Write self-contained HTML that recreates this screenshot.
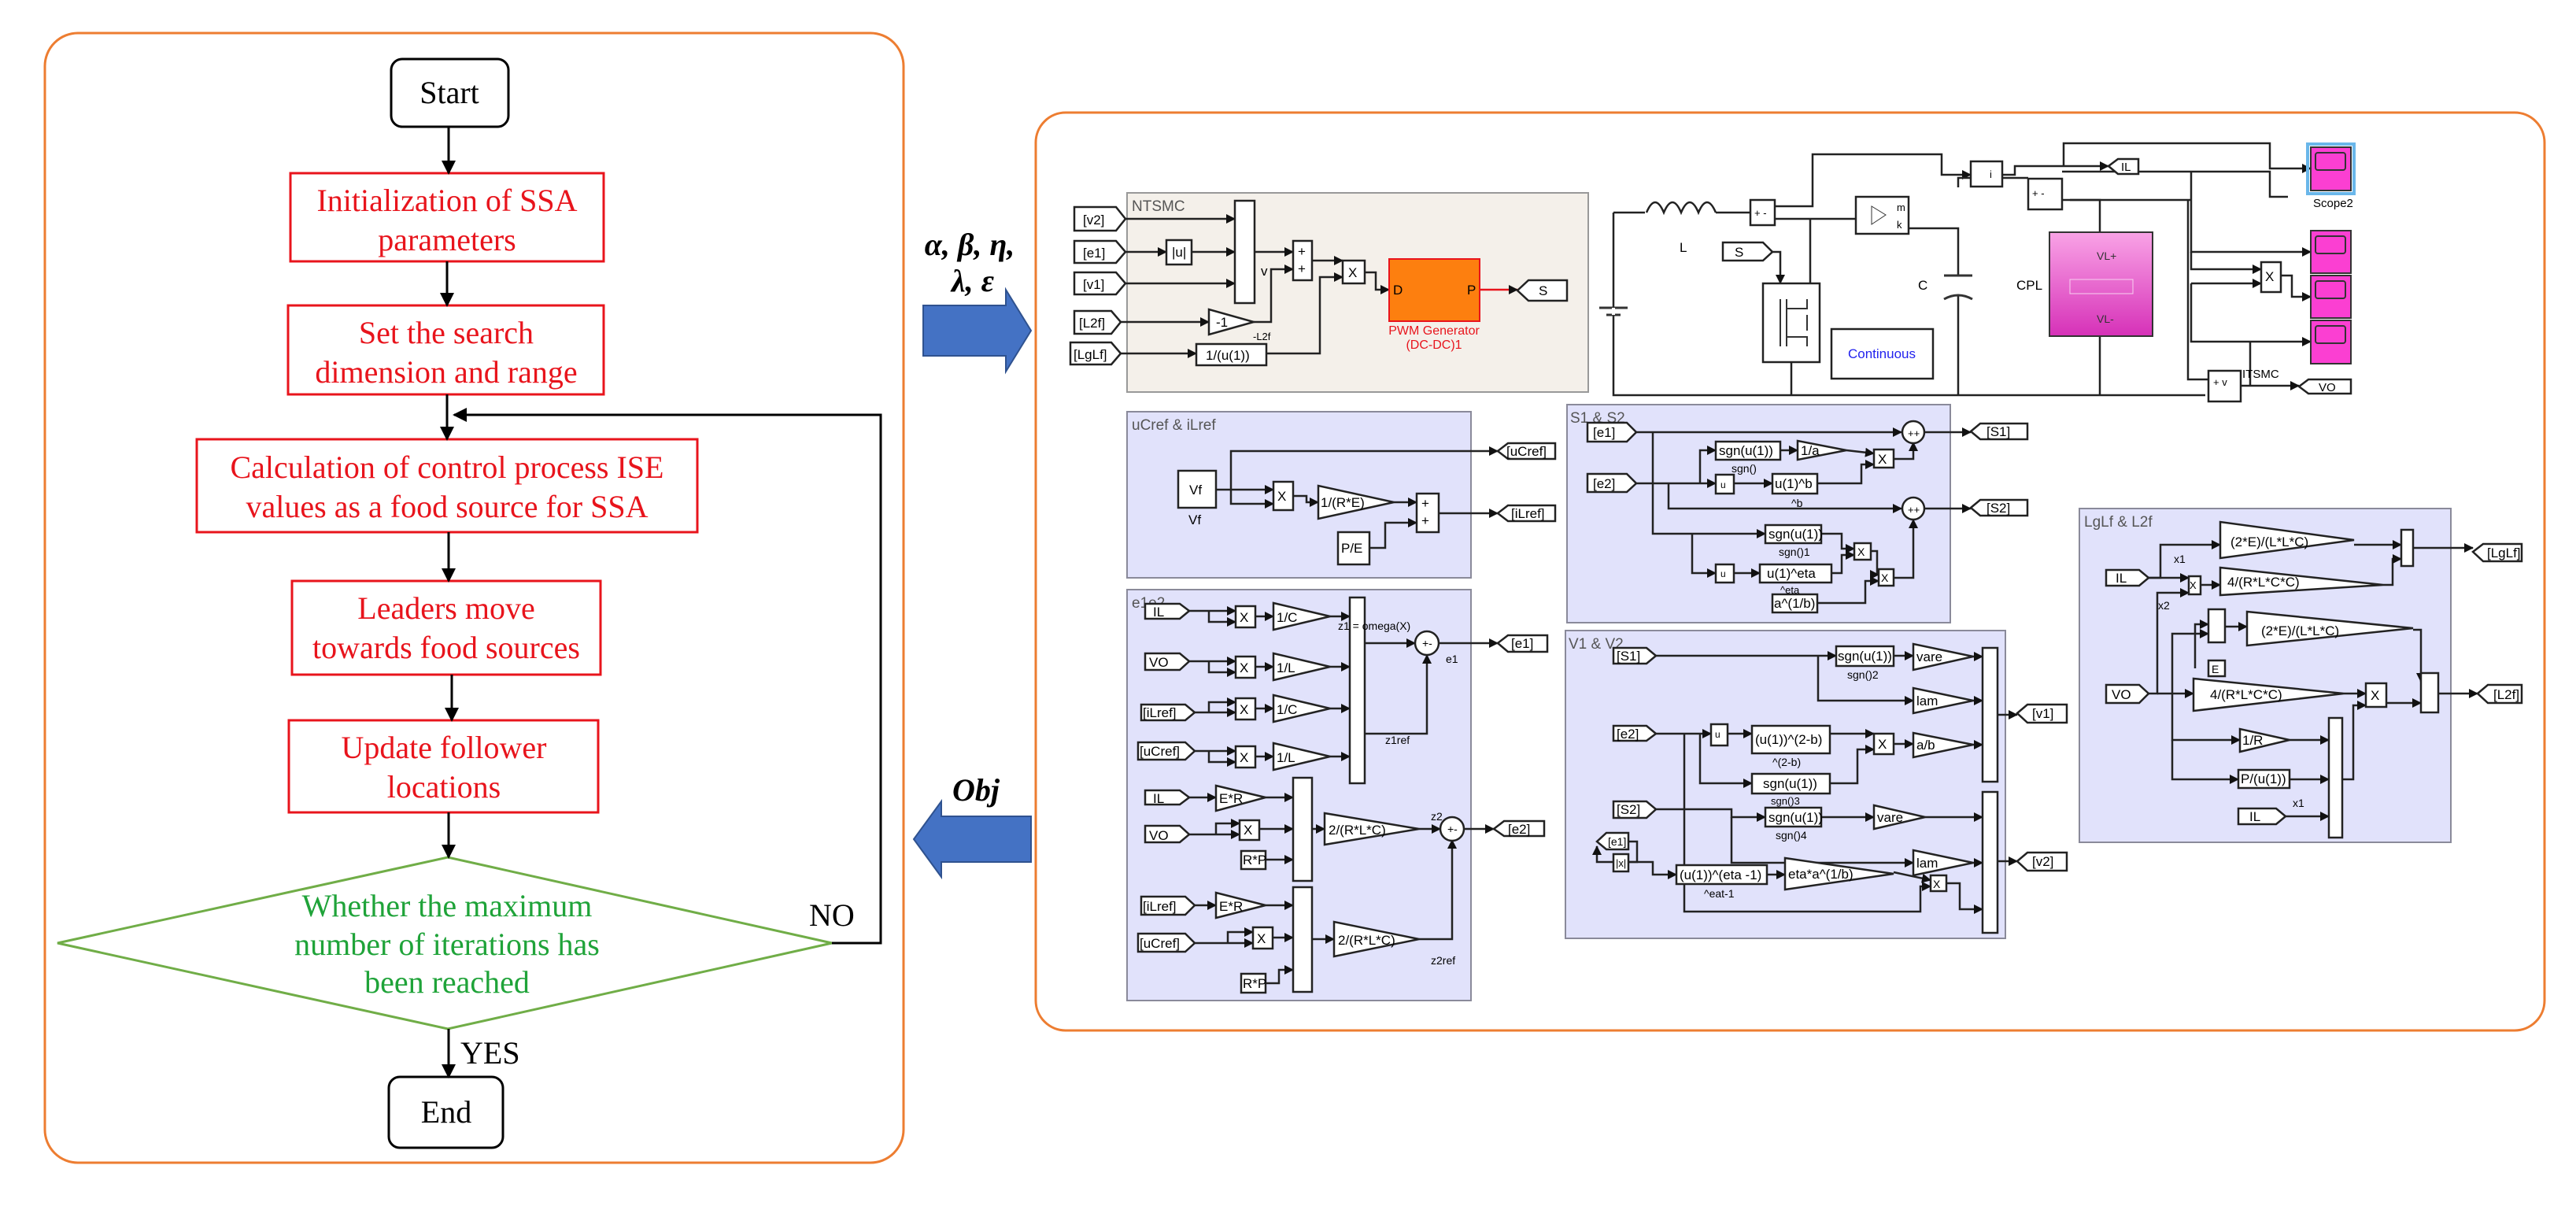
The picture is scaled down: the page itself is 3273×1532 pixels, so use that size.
<!DOCTYPE html>
<html><head><meta charset="utf-8">
<style>
html,body{margin:0;padding:0;background:#fff;}
svg{display:block;}
.fc{font-family:"Liberation Serif",serif;font-size:40px;text-anchor:middle;}
.r{fill:#e8141c;}
.g{fill:#1fa339;}
.k{fill:#000;}
.s{font-family:"Liberation Sans",sans-serif;font-size:17px;fill:#000;}
.t{font-family:"Liberation Sans",sans-serif;font-size:19px;fill:#555;}
.b{fill:#fff;stroke:#222;stroke-width:2.5;}
.w{fill:none;stroke:#222;stroke-width:2.5;}
.sub{fill:#e1e2fb;stroke:#8a8a9a;stroke-width:2;}
</style></head><body>
<svg width="3273" height="1532" viewBox="0 0 3273 1532" xmlns="http://www.w3.org/2000/svg">
<defs>
<marker id="A" markerWidth="18" markerHeight="18" refX="16" refY="9" orient="auto" markerUnits="userSpaceOnUse"><path d="M0,0 L18,9 L0,18 z" fill="#000"/></marker>
<marker id="m" markerWidth="12" markerHeight="12" refX="11" refY="6" orient="auto" markerUnits="userSpaceOnUse"><path d="M0,0 L12,6 L0,12 z" fill="#111"/></marker>
<linearGradient id="pk" x1="0" y1="0" x2="0" y2="1"><stop offset="0" stop-color="#f9a3e6"/><stop offset="1" stop-color="#d631b8"/></linearGradient>
</defs>

<!-- LEFT PANEL -->
<rect x="57" y="42" width="1091" height="1435" rx="42" fill="none" stroke="#ed7d31" stroke-width="3"/>
<rect x="497" y="75" width="149" height="86" rx="14" fill="#fff" stroke="#000" stroke-width="3"/>
<text x="571" y="131" class="fc k">Start</text>
<rect x="369" y="220" width="398" height="112" fill="#fff" stroke="#e8141c" stroke-width="3"/>
<text x="568" y="268" class="fc r">Initialization of SSA</text><text x="568" y="318" class="fc r">parameters</text>
<rect x="366" y="388" width="401" height="113" fill="#fff" stroke="#e8141c" stroke-width="3"/>
<text x="567" y="436" class="fc r">Set the search</text><text x="567" y="486" class="fc r">dimension and range</text>
<rect x="250" y="558" width="636" height="118" fill="#fff" stroke="#e8141c" stroke-width="3"/>
<text x="568" y="607" class="fc r">Calculation of control process ISE</text><text x="568" y="657" class="fc r">values as a food source for SSA</text>
<rect x="371" y="738" width="392" height="119" fill="#fff" stroke="#e8141c" stroke-width="3"/>
<text x="567" y="786" class="fc r">Leaders move</text><text x="567" y="836" class="fc r">towards food sources</text>
<rect x="367" y="915" width="393" height="117" fill="#fff" stroke="#e8141c" stroke-width="3"/>
<text x="564" y="963" class="fc r">Update follower</text><text x="564" y="1013" class="fc r">locations</text>
<polygon points="73,1198 569,1089 1057,1198 569,1307" fill="#fff" stroke="#70ad47" stroke-width="3"/>
<text x="568" y="1164" class="fc g">Whether the maximum</text><text x="568" y="1213" class="fc g">number of iterations has</text><text x="568" y="1261" class="fc g">been reached</text>
<rect x="494" y="1368" width="145" height="90" rx="14" fill="#fff" stroke="#000" stroke-width="3"/>
<text x="567" y="1426" class="fc k">End</text>
<g stroke="#000" stroke-width="3" fill="none" marker-end="url(#A)">
<line x1="570" y1="161" x2="570" y2="220"/>
<line x1="568" y1="332" x2="568" y2="388"/>
<line x1="568" y1="501" x2="568" y2="558"/>
<line x1="570" y1="676" x2="570" y2="738"/>
<line x1="574" y1="857" x2="574" y2="915"/>
<line x1="570" y1="1032" x2="570" y2="1089"/>
<line x1="570" y1="1307" x2="570" y2="1368"/>
<polyline points="1057,1198 1119,1198 1119,527 577,527"/>
</g>
<text x="1028" y="1176" class="fc k" style="text-anchor:start">NO</text>
<text x="585" y="1351" class="fc k" style="text-anchor:start">YES</text>

<!-- middle arrows -->
<text x="1232" y="324" style="font-family:'Liberation Serif',serif;font-weight:bold;font-style:italic;font-size:40px" text-anchor="middle">α, β, η,</text>
<text x="1236" y="370" style="font-family:'Liberation Serif',serif;font-weight:bold;font-style:italic;font-size:40px" text-anchor="middle">λ, ε</text>
<polygon points="1173,388 1278,388 1278,368 1310,420 1278,472 1278,452 1173,452" fill="#4472c4" stroke="#2f528f" stroke-width="2"/>
<text x="1240" y="1017" style="font-family:'Liberation Serif',serif;font-weight:bold;font-style:italic;font-size:40px" text-anchor="middle">Obj</text>
<polygon points="1310,1037 1196,1037 1196,1018 1161,1066 1196,1114 1196,1095 1310,1095" fill="#4472c4" stroke="#2f528f" stroke-width="2"/>

<!-- RIGHT PANEL -->
<rect x="1316" y="143" width="1917" height="1166" rx="38" fill="none" stroke="#ed7d31" stroke-width="3"/>

<rect x="1432" y="245" width="586" height="253" fill="#f4f0ea" stroke="#999" stroke-width="2"/>
<rect x="1432" y="523" width="437" height="211" class="sub"/>
<rect x="1432" y="749" width="437" height="522" class="sub"/>
<rect x="1991" y="514" width="487" height="277" class="sub"/>
<rect x="1989" y="801" width="559" height="391" class="sub"/>
<rect x="2642" y="646" width="472" height="424" class="sub"/>
<text x="1438" y="268" class="t">NTSMC</text>
<text x="1438" y="546" class="t">uCref &amp; iLref</text>
<text x="1438" y="772" class="t">e1e2</text>
<text x="1995" y="537" class="t">S1 &amp; S2</text>
<text x="1993" y="824" class="t">V1 &amp; V2</text>
<text x="2648" y="669" class="t">LgLf &amp; L2f</text>

<!-- NTSMC -->
<g class="w" marker-end="url(#m)">
<line x1="1430" y1="278" x2="1569" y2="278"/>
<line x1="1430" y1="320" x2="1482" y2="320"/>
<line x1="1514" y1="320" x2="1569" y2="320"/>
<line x1="1430" y1="360" x2="1569" y2="360"/>
<line x1="1424" y1="409" x2="1536" y2="409"/>
<line x1="1424" y1="449" x2="1520" y2="449"/>
<polyline points="1594,320 1643,320"/>
<polyline points="1593,409 1615,409 1615,342 1643,342"/>
<polyline points="1667,331 1706,331"/>
<polyline points="1609,449 1677,449 1677,352 1706,352"/>
<polyline points="1734,346 1748,346 1748,368 1765,368"/>
</g>
<line x1="1880" y1="368" x2="1928" y2="368" stroke="#e8141c" stroke-width="2.5" marker-end="url(#m)"/>
<polygon class="b" points="1365,263 1418,263 1430,278 1418,293 1365,293"/>
<polygon class="b" points="1365,306 1418,306 1430,320 1418,334 1365,334"/>
<polygon class="b" points="1365,346 1418,346 1430,360 1418,374 1365,374"/>
<polygon class="b" points="1365,395 1412,395 1424,409 1412,424 1365,424"/>
<polygon class="b" points="1360,435 1412,435 1424,449 1412,463 1360,463"/>
<text x="1376" y="285" class="s">[v2]</text><text x="1376" y="327" class="s">[e1]</text><text x="1376" y="367" class="s">[v1]</text><text x="1371" y="416" class="s">[L2f]</text><text x="1364" y="456" class="s">[LgLf]</text>
<rect class="b" x="1482" y="305" width="32" height="31"/><text x="1489" y="326" class="s">|u|</text>
<rect class="b" x="1569" y="255" width="25" height="130"/>
<text x="1602" y="350" class="s">v</text>
<rect class="b" x="1643" y="306" width="24" height="50"/><text x="1649" y="325" class="s">+</text><text x="1649" y="347" class="s">+</text>
<rect class="b" x="1706" y="331" width="28" height="29"/><text x="1713" y="352" class="s">X</text>
<polygon class="b" points="1536,393 1536,425 1593,409"/><text x="1545" y="415" class="s">-1</text><text x="1592" y="432" class="s" style="font-size:13px">-L2f</text>
<rect class="b" x="1520" y="437" width="89" height="27"/><text x="1532" y="457" class="s">1/(u(1))</text>
<rect x="1765" y="329" width="115" height="79" fill="#fd7f0f" stroke="#e8141c" stroke-width="2"/>
<text x="1770" y="374" class="s">D</text><text x="1864" y="374" class="s">P</text>
<text x="1822" y="425" class="s" style="fill:#e8141c;font-size:16px" text-anchor="middle">PWM Generator</text>
<text x="1822" y="443" class="s" style="fill:#e8141c;font-size:16px" text-anchor="middle">(DC-DC)1</text>
<polygon class="b" points="1928,369 1942,356 1991,356 1991,382 1942,382"/><text x="1955" y="375" class="s">S</text>

<!-- circuit -->
<g class="w">
<polyline points="2050,270 2050,502 2802,502"/>
<line x1="2050" y1="270" x2="2090" y2="270"/>
<path d="M2092,270 q11,-26 22,0 q11,-26 22,0 q11,-26 22,0 q11,-26 22,0" />
<line x1="2180" y1="270" x2="2224" y2="270"/>
<polyline points="2255,262 2303,262 2303,196 2467,196 2467,222 2504,222" marker-end="url(#m)"/>
<line x1="2255" y1="278" x2="2358" y2="278"/>
<line x1="2300" y1="278" x2="2300" y2="360"/>
<polyline points="2252,320 2262,320 2262,360" marker-end="url(#m)"/>
<line x1="2276" y1="460" x2="2276" y2="502"/>
<polyline points="2425,290 2488,290 2488,350"/>
<line x1="2488" y1="375" x2="2488" y2="502"/>
<polyline points="2488,238 2488,226 2577,226"/>
<polyline points="2620,218 2884,218 2884,250 2907,250"/>
<polyline points="2544,222 2560,222 2560,211 2679,211" marker-end="url(#m)"/>
<polyline points="2622,211 2622,182 2884,182 2884,214 2936,214" marker-end="url(#m)"/>
<polyline points="2620,254 2668,254 2668,295"/>
<line x1="2668" y1="427" x2="2668" y2="502"/>
<polyline points="2784,218 2784,320 2936,320" marker-end="url(#m)"/>
<polyline points="2784,320 2784,342 2873,342" marker-end="url(#m)"/>
<polyline points="2784,360 2873,360" marker-end="url(#m)"/>
<polyline points="2784,360 2784,434 2936,434" marker-end="url(#m)"/>
<polyline points="2898,350 2912,350 2912,377 2936,377" marker-end="url(#m)"/>
<polyline points="2630,254 2784,254"/>
<polyline points="2780,254 2780,482 2806,482"/>
<polyline points="2847,490 2921,490" marker-end="url(#m)"/>
<line x1="2859" y1="434" x2="2859" y2="490"/>
</g>
<line x1="2032" y1="391" x2="2068" y2="391" stroke="#333" stroke-width="3"/>
<line x1="2041" y1="400" x2="2059" y2="400" stroke="#333" stroke-width="3"/>
<line x1="2050" y1="391" x2="2050" y2="400" stroke="#fff" stroke-width="4"/>
<line x1="2470" y1="350" x2="2506" y2="350" stroke="#333" stroke-width="3"/>
<path d="M2470,380 q18,-10 36,0" fill="none" stroke="#333" stroke-width="3"/>
<text x="2134" y="320" class="s">L</text><text x="2437" y="368" class="s">C</text><text x="2562" y="368" class="s">CPL</text>
<rect class="b" x="2224" y="254" width="31" height="32"/><text x="2229" y="275" class="s" style="font-size:13px">+ -</text>
<rect class="b" x="2358" y="250" width="67" height="47"/><polygon points="2378,262 2378,285 2396,273" fill="none" stroke="#333"/><text x="2410" y="268" class="s" style="font-size:13px">m</text><text x="2410" y="290" class="s" style="font-size:13px">k</text>
<polygon class="b" points="2189,308 2240,308 2252,320 2240,331 2189,331"/><text x="2204" y="326" class="s">S</text>
<rect class="b" x="2240" y="360" width="72" height="100"/>
<path d="M2262,380 v60 M2270,380 v60 M2270,392 h26 v-12 M2270,428 h26 v12 M2296,400 v20" fill="none" stroke="#333" stroke-width="2"/>
<rect class="b" x="2327" y="418" width="129" height="63"/><text x="2391" y="455" class="s" text-anchor="middle" style="fill:#2222ee">Continuous</text>
<rect class="b" x="2504" y="205" width="40" height="32"/><text x="2528" y="226" class="s" style="font-size:13px">i</text>
<rect class="b" x="2577" y="227" width="43" height="39"/><text x="2582" y="250" class="s" style="font-size:13px">+ -</text>
<polygon class="b" points="2679,211 2691,202 2717,202 2717,221 2691,221"/><text x="2695" y="217" class="s" style="font-size:15px">IL</text>
<rect x="2604" y="295" width="131" height="132" fill="url(#pk)" stroke="#333" stroke-width="2"/>
<text x="2664" y="330" class="s" style="fill:#333;font-size:14px">VL+</text><text x="2664" y="410" class="s" style="fill:#333;font-size:14px">VL-</text>
<rect x="2630" y="355" width="80" height="18" fill="none" stroke="#f8d0f0" stroke-width="1"/>
<rect x="2932" y="183" width="59" height="63" fill="none" stroke="#6ab7ea" stroke-width="4"/>
<rect x="2936" y="187" width="51" height="55" fill="#fb3fd2" stroke="#333" stroke-width="2"/><rect x="2942" y="194" width="38" height="22" rx="3" fill="none" stroke="#333" stroke-width="2"/>
<text x="2939" y="263" class="s" style="font-size:15px">Scope2</text>
<rect x="2936" y="293" width="51" height="54" fill="#fb3fd2" stroke="#333" stroke-width="2"/><rect x="2942" y="300" width="38" height="22" rx="3" fill="none" stroke="#333" stroke-width="2"/>
<rect x="2936" y="350" width="51" height="54" fill="#fb3fd2" stroke="#333" stroke-width="2"/><rect x="2942" y="357" width="38" height="22" rx="3" fill="none" stroke="#333" stroke-width="2"/>
<rect x="2936" y="407" width="51" height="55" fill="#fb3fd2" stroke="#333" stroke-width="2"/><rect x="2942" y="414" width="38" height="22" rx="3" fill="none" stroke="#333" stroke-width="2"/>
<rect class="b" x="2873" y="333" width="25" height="38"/><text x="2878" y="357" class="s">X</text>
<rect class="b" x="2806" y="471" width="41" height="39"/><text x="2812" y="490" class="s" style="font-size:13px">+ v</text>
<text x="2849" y="480" class="s" style="font-size:15px">ITSMC</text>
<polygon class="b" points="2921,491 2933,482 2987,482 2987,500 2933,500"/><text x="2946" y="497" class="s" style="font-size:15px">VO</text>

<!-- uCref & iLref -->
<g class="w" marker-end="url(#m)">
<polyline points="1545,622 1564,622 1564,573 1903,573"/>
<polyline points="1564,622 1564,640 1618,640"/>
<polyline points="1564,622 1618,622"/>
<polyline points="1643,630 1660,630 1660,638 1675,638"/>
<polyline points="1771,638 1800,638"/>
<polyline points="1740,696 1760,696 1760,664 1800,664"/>
<polyline points="1828,652 1903,652"/>
</g>
<rect class="b" x="1497" y="598" width="48" height="47"/><text x="1511" y="628" class="s">Vf</text><text x="1510" y="666" class="s">Vf</text>
<rect class="b" x="1618" y="612" width="25" height="36"/><text x="1623" y="636" class="s">X</text>
<polygon class="b" points="1675,617 1675,659 1771,638"/><text x="1678" y="644" class="s">1/(R*E)</text>
<rect class="b" x="1800" y="627" width="28" height="49"/><text x="1806" y="645" class="s">+</text><text x="1806" y="667" class="s">+</text>
<rect class="b" x="1700" y="676" width="40" height="41"/><text x="1704" y="702" class="s">P/E</text>
<polygon class="b" points="1903,573 1916,563 1976,563 1976,583 1916,583"/><text x="1914" y="579" class="s">[uCref]</text>
<polygon class="b" points="1903,652 1916,642 1976,642 1976,662 1916,662"/><text x="1920" y="658" class="s">[iLref]</text>

<!-- e1e2 -->
<g class="w" marker-end="url(#m)">
<polyline points="1511,776 1570,776"/><polyline points="1536,776 1536,790 1570,790"/><polyline points="1595,783 1618,783"/><polyline points="1690,783 1715,783"/>
<polyline points="1511,840 1570,840"/><polyline points="1536,840 1536,854 1570,854"/><polyline points="1595,847 1618,847"/><polyline points="1690,847 1715,847"/>
<polyline points="1518,905 1570,905"/><polyline points="1536,905 1536,892 1570,892"/><polyline points="1595,900 1618,900"/><polyline points="1690,900 1715,900"/>
<polyline points="1518,954 1570,954"/><polyline points="1536,954 1536,968 1570,968"/><polyline points="1595,961 1618,961"/><polyline points="1690,961 1715,961"/>
<polyline points="1734,817 1798,817"/><polyline points="1734,932 1813,932 1813,832"/><polyline points="1828,817 1903,817"/>
<polyline points="1511,1013 1545,1013"/><polyline points="1608,1013 1643,1013"/>
<polyline points="1511,1060 1575,1060"/><polyline points="1545,1060 1545,1046 1575,1046"/><polyline points="1600,1053 1643,1053"/>
<polyline points="1608,1092 1643,1092"/><polyline points="1667,1053 1683,1053"/><polyline points="1803,1053 1830,1053"/>
<polyline points="1861,1053 1898,1053"/>
<polyline points="1518,1150 1545,1150"/><polyline points="1608,1150 1643,1150"/>
<polyline points="1518,1198 1592,1198"/><polyline points="1560,1198 1560,1184 1592,1184"/><polyline points="1617,1191 1643,1191"/>
<polyline points="1608,1249 1625,1249 1625,1232 1643,1232"/>
<polyline points="1667,1193 1695,1193"/><polyline points="1803,1193 1845,1193 1845,1067"/>
</g>
<polygon class="b" points="1455,767 1499,767 1511,776 1499,786 1455,786"/><text x="1465" y="783" class="s">IL</text>
<polygon class="b" points="1455,830 1499,830 1511,840 1499,851 1455,851"/><text x="1460" y="847" class="s">VO</text>
<polygon class="b" points="1450,895 1506,895 1518,905 1506,915 1450,915"/><text x="1452" y="911" class="s">[iLref]</text>
<polygon class="b" points="1446,943 1506,943 1518,954 1506,965 1446,965"/><text x="1448" y="960" class="s">[uCref]</text>
<polygon class="b" points="1455,1004 1499,1004 1511,1013 1499,1022 1455,1022"/><text x="1465" y="1020" class="s">IL</text>
<polygon class="b" points="1455,1049 1499,1049 1511,1060 1499,1070 1455,1070"/><text x="1460" y="1067" class="s">VO</text>
<polygon class="b" points="1450,1139 1506,1139 1518,1150 1506,1162 1450,1162"/><text x="1452" y="1157" class="s">[iLref]</text>
<polygon class="b" points="1446,1186 1506,1186 1518,1198 1506,1209 1446,1209"/><text x="1448" y="1204" class="s">[uCref]</text>
<rect class="b" x="1570" y="770" width="25" height="27"/><text x="1575" y="790" class="s">X</text>
<rect class="b" x="1570" y="834" width="25" height="27"/><text x="1575" y="854" class="s">X</text>
<rect class="b" x="1570" y="887" width="25" height="27"/><text x="1575" y="907" class="s">X</text>
<rect class="b" x="1570" y="948" width="25" height="27"/><text x="1575" y="968" class="s">X</text>
<polygon class="b" points="1618,766 1618,800 1690,783"/><text x="1622" y="790" class="s">1/C</text>
<polygon class="b" points="1618,830 1618,864 1690,847"/><text x="1622" y="854" class="s">1/L</text>
<polygon class="b" points="1618,883 1618,917 1690,900"/><text x="1622" y="907" class="s">1/C</text>
<polygon class="b" points="1618,944 1618,978 1690,961"/><text x="1622" y="968" class="s">1/L</text>
<rect class="b" x="1715" y="759" width="19" height="236"/>
<text x="1700" y="800" class="s" style="font-size:14px">z1 = omega(X)</text><text x="1760" y="945" class="s" style="font-size:14px">z1ref</text>
<circle class="b" cx="1813" cy="817" r="15"/><text x="1807" y="822" class="s" style="font-size:14px">+-</text><text x="1837" y="842" class="s" style="font-size:14px">e1</text>
<polygon class="b" points="1903,817 1916,807 1966,807 1966,828 1916,828"/><text x="1920" y="823" class="s">[e1]</text>
<polygon class="b" points="1545,998 1545,1030 1608,1013"/><text x="1549" y="1020" class="s">E*R</text>
<rect class="b" x="1575" y="1042" width="25" height="25"/><text x="1580" y="1060" class="s">X</text>
<rect class="b" x="1577" y="1081" width="31" height="23"/><text x="1579" y="1098" class="s">R*P</text>
<rect class="b" x="1643" y="988" width="24" height="131"/>
<polygon class="b" points="1683,1033 1683,1073 1803,1053"/><text x="1688" y="1060" class="s">2/(R*L*C)</text>
<circle class="b" cx="1845" cy="1053" r="15"/><text x="1839" y="1058" class="s" style="font-size:14px">+-</text><text x="1818" y="1042" class="s" style="font-size:14px">z2</text>
<polygon class="b" points="1898,1053 1911,1043 1962,1043 1962,1062 1911,1062"/><text x="1916" y="1059" class="s">[e2]</text>
<polygon class="b" points="1545,1134 1545,1166 1608,1150"/><text x="1549" y="1157" class="s">E*R</text>
<rect class="b" x="1592" y="1178" width="25" height="27"/><text x="1597" y="1198" class="s">X</text>
<rect class="b" x="1577" y="1237" width="31" height="24"/><text x="1579" y="1255" class="s">R*P</text>
<rect class="b" x="1643" y="1127" width="24" height="133"/>
<polygon class="b" points="1695,1171 1695,1215 1803,1193"/><text x="1700" y="1200" class="s">2/(R*L*C)</text><text x="1818" y="1225" class="s" style="font-size:14px">z2ref</text>

<!-- S1 & S2 -->
<g class="w" marker-end="url(#m)">
<polyline points="2079,549 2416,549"/><polyline points="2446,549 2504,549"/>
<polyline points="2079,614 2180,614"/><polyline points="2160,614 2160,572 2180,572"/>
<polyline points="2262,572 2284,572"/><polyline points="2346,572 2381,576"/>
<polyline points="2203,614 2252,614"/><polyline points="2309,614 2365,614 2365,590 2381,590"/>
<polyline points="2406,583 2431,583 2431,562"/>
<polyline points="2120,614 2120,646 2416,646"/><polyline points="2446,646 2504,646"/>
<polyline points="2100,549 2100,678 2243,678"/><polyline points="2150,678 2150,728 2180,728"/><polyline points="2203,728 2236,728"/>
<polyline points="2314,678 2340,678 2340,697 2356,697"/><polyline points="2327,728 2340,728 2340,705 2356,705"/>
<polyline points="2377,700 2385,700 2385,730 2387,730"/><polyline points="2309,766 2370,766 2370,738 2387,738"/>
<polyline points="2406,734 2431,734 2431,660"/>
</g>
<polygon class="b" points="2017,537 2067,537 2079,549 2067,561 2017,561"/><text x="2024" y="555" class="s">[e1]</text>
<polygon class="b" points="2017,602 2067,602 2079,614 2067,625 2017,625"/><text x="2024" y="620" class="s">[e2]</text>
<rect class="b" x="2180" y="561" width="82" height="23"/><text x="2184" y="578" class="s">sgn(u(1))</text><text x="2200" y="600" class="s" style="font-size:14px">sgn()</text>
<polygon class="b" points="2284,560 2284,584 2346,572"/><text x="2288" y="578" class="s">1/a</text>
<rect class="b" x="2381" y="571" width="25" height="23"/><text x="2386" y="589" class="s">X</text>
<rect class="b" x="2180" y="603" width="23" height="24"/><text x="2186" y="620" class="s" style="font-size:12px">u</text>
<rect class="b" x="2252" y="602" width="57" height="25"/><text x="2255" y="620" class="s">u(1)^b</text><text x="2276" y="644" class="s" style="font-size:14px">^b</text>
<circle class="b" cx="2431" cy="549" r="14"/><text x="2424" y="555" class="s" style="font-size:13px">++</text>
<circle class="b" cx="2431" cy="646" r="14"/><text x="2424" y="652" class="s" style="font-size:13px">++</text>
<polygon class="b" points="2504,548 2516,538 2576,538 2576,558 2516,558"/><text x="2524" y="554" class="s">[S1]</text>
<polygon class="b" points="2504,645 2516,635 2576,635 2576,655 2516,655"/><text x="2524" y="651" class="s">[S2]</text>
<rect class="b" x="2243" y="667" width="71" height="23"/><text x="2247" y="684" class="s">sgn(u(1))</text><text x="2260" y="706" class="s" style="font-size:14px">sgn()1</text>
<rect class="b" x="2180" y="717" width="23" height="23"/><text x="2186" y="733" class="s" style="font-size:12px">u</text>
<rect class="b" x="2236" y="717" width="91" height="23"/><text x="2245" y="734" class="s">u(1)^eta</text><text x="2262" y="754" class="s" style="font-size:13px">^eta</text>
<rect class="b" x="2252" y="755" width="57" height="23"/><text x="2254" y="772" class="s">a^(1/b)</text>
<rect class="b" x="2356" y="690" width="21" height="21"/><text x="2360" y="706" class="s" style="font-size:14px">X</text>
<rect class="b" x="2387" y="723" width="19" height="21"/><text x="2390" y="739" class="s" style="font-size:14px">X</text>

<!-- V1 & V2 -->
<g class="w" marker-end="url(#m)">
<polyline points="2104,833 2333,833"/><polyline points="2406,833 2431,833"/><polyline points="2507,834 2519,834"/>
<polyline points="2310,833 2310,890 2431,890"/><polyline points="2507,890 2519,890"/>
<polyline points="2104,932 2174,932"/><polyline points="2195,932 2226,932"/><polyline points="2325,932 2381,932"/>
<polyline points="2160,932 2160,995 2226,995"/><polyline points="2325,995 2360,995 2360,952 2381,952"/>
<polyline points="2406,945 2431,945"/><polyline points="2507,946 2519,946"/>
<polyline points="2104,1028 2200,1028 2200,1038 2243,1038"/><polyline points="2314,1038 2381,1038"/><polyline points="2446,1038 2519,1038"/>
<polyline points="2069,1069 2080,1069 2080,1095 2029,1095 2029,1075"/>
<polyline points="2069,1095 2100,1095 2100,1111 2130,1111"/><polyline points="2245,1111 2268,1111"/>
<polyline points="2406,1108 2453,1118"/><polyline points="2200,1038 2200,1096 2431,1096"/><polyline points="2507,1096 2519,1096"/>
<polyline points="2140,932 2140,1158 2440,1158 2440,1126 2453,1126"/>
<polyline points="2473,1122 2490,1122 2490,1155 2519,1155"/>
<polyline points="2538,908 2563,908"/><polyline points="2538,1094 2563,1094"/>
</g>
<polygon class="b" points="2050,823 2092,823 2104,833 2092,843 2050,843"/><text x="2054" y="839" class="s">[S1]</text>
<rect class="b" x="2333" y="821" width="73" height="25"/><text x="2335" y="839" class="s">sgn(u(1))</text><text x="2347" y="862" class="s" style="font-size:14px">sgn()2</text>
<polygon class="b" points="2431,818 2431,851 2507,834"/><text x="2435" y="840" class="s">vare</text>
<polygon class="b" points="2431,874 2431,906 2507,890"/><text x="2435" y="896" class="s">lam</text>
<polygon class="b" points="2431,931 2431,962 2507,946"/><text x="2435" y="952" class="s">a/b</text>
<rect class="b" x="2519" y="823" width="19" height="170"/>
<rect class="b" x="2519" y="1006" width="19" height="179"/>
<polygon class="b" points="2563,906 2576,895 2626,895 2626,918 2576,918"/><text x="2582" y="912" class="s">[v1]</text>
<polygon class="b" points="2563,1094 2576,1083 2626,1083 2626,1106 2576,1106"/><text x="2582" y="1100" class="s">[v2]</text>
<polygon class="b" points="2050,922 2092,922 2104,932 2092,941 2050,941"/><text x="2054" y="938" class="s">[e2]</text>
<rect class="b" x="2174" y="920" width="21" height="27"/><text x="2179" y="937" class="s" style="font-size:12px">u</text>
<rect class="b" x="2226" y="922" width="99" height="35"/><text x="2230" y="945" class="s">(u(1))^(2-b)</text><text x="2252" y="973" class="s" style="font-size:14px">^(2-b)</text>
<rect class="b" x="2381" y="932" width="25" height="26"/><text x="2386" y="951" class="s">X</text>
<rect class="b" x="2226" y="983" width="99" height="25"/><text x="2240" y="1001" class="s">sgn(u(1))</text><text x="2250" y="1022" class="s" style="font-size:13px">sgn()3</text>
<polygon class="b" points="2050,1018 2092,1018 2104,1028 2092,1039 2050,1039"/><text x="2054" y="1034" class="s">[S2]</text>
<rect class="b" x="2243" y="1026" width="71" height="24"/><text x="2247" y="1044" class="s">sgn(u(1))</text><text x="2256" y="1066" class="s" style="font-size:14px">sgn()4</text>
<polygon class="b" points="2381,1023 2381,1053 2446,1038"/><text x="2385" y="1044" class="s">vare</text>
<polygon class="b" points="2029,1069 2041,1058 2069,1058 2069,1079 2041,1079"/><text x="2043" y="1074" class="s" style="font-size:14px">[e1]</text>
<rect class="b" x="2050" y="1085" width="19" height="22"/><text x="2053" y="1101" class="s" style="font-size:13px">|x|</text>
<rect class="b" x="2130" y="1099" width="115" height="24"/><text x="2134" y="1117" class="s">(u(1))^(eta -1)</text><text x="2165" y="1140" class="s" style="font-size:14px">^eat-1</text>
<polygon class="b" points="2268,1090 2268,1130 2406,1110"/><text x="2272" y="1116" class="s">eta*a^(1/b)</text>
<polygon class="b" points="2431,1080 2431,1112 2507,1096"/><text x="2435" y="1102" class="s">lam</text>
<rect class="b" x="2453" y="1112" width="20" height="20"/><text x="2456" y="1128" class="s" style="font-size:14px">X</text>

<!-- LgLf & L2f -->
<g class="w" marker-end="url(#m)">
<polyline points="2730,734 2745,734 2745,692 2821,692"/><polyline points="2991,692 3051,692"/>
<polyline points="2730,734 2781,734"/><polyline points="2796,743 2821,743"/><polyline points="3028,743 3040,743 3040,710 3051,710"/>
<polyline points="3066,696 3142,696"/>
<polyline points="2730,881 2741,881 2741,753 2781,753"/>
<polyline points="2760,881 2760,805 2806,805"/><polyline points="2789,849 2789,793 2806,793"/>
<polyline points="2827,796 2855,796"/><polyline points="3066,800 3076,800 3076,866"/>
<polyline points="2741,881 2787,881"/><polyline points="2978,881 3006,881"/><polyline points="3032,893 3076,893"/>
<polyline points="2760,881 2760,940 2846,940"/><polyline points="2909,940 2959,940"/>
<polyline points="2760,940 2760,990 2844,990"/><polyline points="2909,990 2959,990"/>
<polyline points="2904,1037 2959,1037"/>
<polyline points="2976,990 2990,990 2990,896 3006,896"/>
<polyline points="3098,881 3148,881"/>
</g>
<polygon class="b" points="2821,663 2821,709 2991,686"/><text x="2834" y="694" class="s">(2*E)/(L*L*C)</text>
<rect class="b" x="3051" y="673" width="15" height="46"/>
<polygon class="b" points="3142,701 3155,691 3204,691 3204,713 3155,713"/><text x="3160" y="708" class="s">[LgLf]</text>
<polygon class="b" points="2676,724 2718,724 2730,734 2718,744 2676,744"/><text x="2688" y="740" class="s">IL</text>
<rect class="b" x="2781" y="732" width="15" height="23"/><text x="2782" y="748" class="s" style="font-size:13px">X</text>
<polygon class="b" points="2821,721 2821,756 3028,743"/><text x="2830" y="745" class="s">4/(R*L*C*C)</text>
<text x="2762" y="715" class="s" style="font-size:14px">x1</text><text x="2742" y="774" class="s" style="font-size:14px">x2</text>
<rect class="b" x="2806" y="774" width="21" height="42"/>
<polygon class="b" points="2855,777 2855,820 3066,798"/><text x="2873" y="807" class="s">(2*E)/(L*L*C)</text>
<rect class="b" x="2806" y="839" width="21" height="20"/><text x="2810" y="855" class="s" style="font-size:14px">E</text>
<polygon class="b" points="2676,870 2718,870 2730,881 2718,893 2676,893"/><text x="2683" y="888" class="s">VO</text>
<polygon class="b" points="2787,862 2787,903 2978,881"/><text x="2808" y="888" class="s">4/(R*L*C*C)</text>
<rect class="b" x="3006" y="868" width="26" height="30"/><text x="3012" y="889" class="s">X</text>
<rect class="b" x="3076" y="855" width="22" height="50"/>
<polygon class="b" points="3148,881 3161,870 3204,870 3204,893 3161,893"/><text x="3168" y="888" class="s">[L2f]</text>
<polygon class="b" points="2846,926 2846,955 2909,940"/><text x="2849" y="946" class="s">1/R</text>
<rect class="b" x="2844" y="978" width="65" height="23"/><text x="2847" y="995" class="s">P/(u(1))</text>
<polygon class="b" points="2844,1027 2892,1027 2904,1037 2892,1047 2844,1047"/><text x="2858" y="1043" class="s">IL</text><text x="2913" y="1025" class="s" style="font-size:14px">x1</text>
<rect class="b" x="2959" y="912" width="17" height="152"/>
</svg>
</body></html>
